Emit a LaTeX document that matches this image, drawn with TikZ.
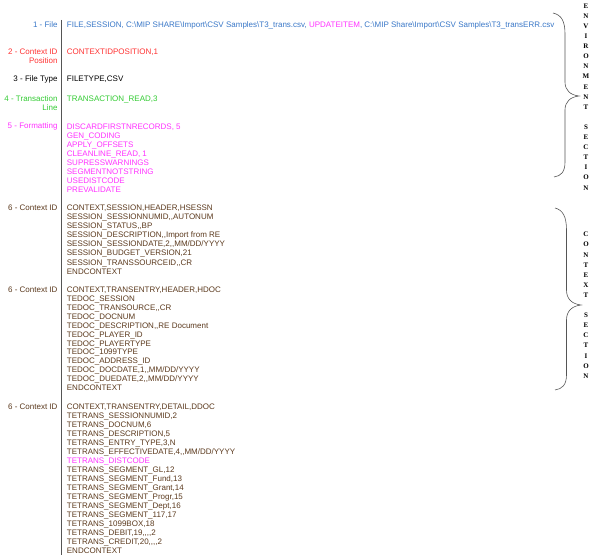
\documentclass[tikz,border=0pt]{standalone}
\usepackage{fontspec}
\setmainfont{Liberation Sans}[Ligatures=TeXOff]
\newfontfamily\bracefont{Liberation Serif}[Ligatures=TeXOff]
\definecolor{fileblue}{HTML}{3A78C8}
\definecolor{ctxred}{HTML}{FF3333}
\definecolor{grn}{HTML}{33CC33}
\definecolor{mag}{HTML}{FF33FF}
\definecolor{brn}{HTML}{5C3A1E}
\definecolor{linegray}{HTML}{555555}
\begin{document}
\begin{tikzpicture}[x=1pt,y=-1pt,
  lbl/.style={anchor=base east,inner sep=0pt,align=right,font=\fontsize{8}{9}\selectfont},
  txt/.style={anchor=base west,inner sep=0pt,align=left,font=\fontsize{8}{9.05}\selectfont},
  bracepath/.style={draw=linegray,line width=0.6pt},
  secttext/.style={anchor=north,inner sep=0pt,align=center,font=\fontsize{7}{10.1}\selectfont\bracefont\bfseries}]
\useasboundingbox (0,0) rectangle (600,559);
\fill[white] (0,0) rectangle (600,559);
% separator line
\coordinate (ltop) at (61.7,20);
\coordinate (lbot) at (61.7,555);
\draw[linegray,line width=1.3pt] (ltop) -- (lbot);
% environment rows (multi-line nodes are anchored at the baseline of their last line)
\node[lbl,text=fileblue] (l1) at (57.7,28) {1 - File};
\node[txt,text=fileblue] (t1) at (66.7,28) {FILE,SESSION, C:\textbackslash MIP SHARE\textbackslash Import\textbackslash CSV Samples\textbackslash T3\_trans.csv, \textcolor{mag}{UPDATEITEM}, C:\textbackslash MIP Share\textbackslash Import\textbackslash CSV Samples\textbackslash T3\_transERR.csv};
\node[lbl,text=ctxred] (l2) at (57.7,63.7) {2 - Context ID\\Position};
\node[txt,text=ctxred] (t2) at (66.7,54.7) {CONTEXTIDPOSITION,1};
\node[lbl,text=black] (l3) at (57.7,82) {3 - File Type};
\node[txt,text=black] (t3) at (66.7,82) {FILETYPE,CSV};
\node[lbl,text=grn] (l4) at (57.7,111) {4 - Transaction\\Line};
\node[txt,text=grn] (t4) at (66.7,102) {TRANSACTION\_READ,3};
\node[lbl,text=mag] (l5) at (57.7,129) {5 - Formatting};
\node[txt,text=mag] (t5) at (66.7,192.35) {DISCARDFIRSTNRECORDS, 5\\GEN\_CODING\\APPLY\_OFFSETS\\CLEANLINE\_READ, 1\\SUPRESSWARNINGS\\SEGMENTNOTSTRING\\USEDISTCODE\\PREVALIDATE};
% context rows
\node[lbl,text=brn] (l6a) at (57.7,210.7) {6 - Context ID};
\node[txt,text=brn] (t6a) at (66.7,274.05) {CONTEXT,SESSION,HEADER,HSESSN\\SESSION\_SESSIONNUMID,,AUTONUM\\SESSION\_STATUS,,BP\\SESSION\_DESCRIPTION,,Import from RE\\SESSION\_SESSIONDATE,2,,MM/DD/YYYY\\SESSION\_BUDGET\_VERSION,21\\SESSION\_TRANSSOURCEID,,CR\\ENDCONTEXT};
\node[lbl,text=brn] (l6b) at (57.7,292.3) {6 - Context ID};
\node[txt,text=brn,font=\fontsize{8}{8.95}\selectfont] (t6b) at (66.7,390.75) {CONTEXT,TRANSENTRY,HEADER,HDOC\\TEDOC\_SESSION\\TEDOC\_TRANSOURCE,,CR\\TEDOC\_DOCNUM\\TEDOC\_DESCRIPTION,,RE Document\\TEDOC\_PLAYER\_ID\\TEDOC\_PLAYERTYPE\\TEDOC\_1099TYPE\\TEDOC\_ADDRESS\_ID\\TEDOC\_DOCDATE,1,,MM/DD/YYYY\\TEDOC\_DUEDATE,2,,MM/DD/YYYY\\ENDCONTEXT};
\node[lbl,text=brn] (l6c) at (57.7,409) {6 - Context ID};
\node[txt,text=brn,font=\fontsize{8}{9.06}\selectfont] (t6c) at (66.7,553.96) {CONTEXT,TRANSENTRY,DETAIL,DDOC\\TETRANS\_SESSIONNUMID,2\\TETRANS\_DOCNUM,6\\TETRANS\_DESCRIPTION,5\\TETRANS\_ENTRY\_TYPE,3,N\\TETRANS\_EFFECTIVEDATE,4,,MM/DD/YYYY\\\textcolor{mag}{TETRANS\_DISTCODE}\\TETRANS\_SEGMENT\_GL,12\\TETRANS\_SEGMENT\_Fund,13\\TETRANS\_SEGMENT\_Grant,14\\TETRANS\_SEGMENT\_Progr,15\\TETRANS\_SEGMENT\_Dept,16\\TETRANS\_SEGMENT\_117,17\\TETRANS\_1099BOX,18\\TETRANS\_DEBIT,19,,,,2\\TETRANS\_CREDIT,20,,,,2\\ENDCONTEXT};
% environment brace
\coordinate (eb1) at (553,13);
\coordinate (etip) at (579,96);
\coordinate (eb2) at (554,177);
\draw[bracepath] (eb1) .. controls (562,15) and (565,22) .. (565,34) -- (565,82)
  .. controls (565,90) and (570,95) .. (etip)
  .. controls (570,97) and (565,102) .. (565,110) -- (565,162)
  .. controls (565,172) and (561,176) .. (eb2);
\node[secttext] (envtxt) at (586,3.5) {E\\N\\V\\I\\R\\O\\N\\M\\E\\N\\T\\[10.1pt]S\\E\\C\\T\\I\\O\\N};
% context brace
\coordinate (cb1) at (555,208);
\coordinate (ctip) at (581,305);
\coordinate (cb2) at (555,390);
\draw[bracepath] (cb1) .. controls (563,210) and (566.5,217) .. (566.5,230) -- (566.5,290)
  .. controls (566.5,299) and (572,304) .. (ctip)
  .. controls (572,306) and (566.5,311) .. (566.5,320) -- (566.5,375)
  .. controls (566.5,385) and (562,389) .. (cb2);
\node[secttext] (ctxtxt) at (586,232) {C\\O\\N\\T\\E\\X\\T\\[10.1pt]S\\E\\C\\T\\I\\O\\N};
\end{tikzpicture}
\end{document}
